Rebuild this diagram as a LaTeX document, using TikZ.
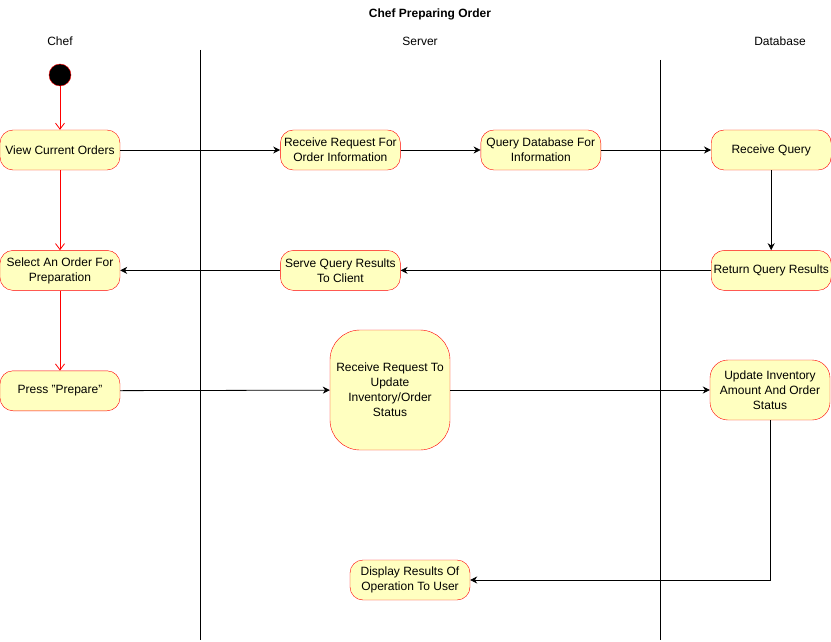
\documentclass[tikz,border=0pt]{standalone}
\usepackage{fontspec}
\setmainfont{Liberation Sans}
\usetikzlibrary{arrows.meta,positioning}

\tikzset{
  act/.style={rectangle,rounded corners=13pt,draw=red,fill=actfill,
    minimum width=120pt,minimum height=40pt,inner xsep=1pt,inner ysep=2pt,
    align=center,font=\fontsize{12}{15}\selectfont},
  flow/.style={-{Stealth[length=7pt,width=7pt]},line width=0.8pt},
  ctl/.style={-{Straight Barb[length=6pt,width=9pt]},draw=red,line width=0.8pt},
  lane/.style={font=\fontsize{12}{15}\selectfont}
}
\definecolor{actfill}{HTML}{FFFFC0}

\begin{document}
\begin{tikzpicture}[x=1pt,y=-1pt]
  \useasboundingbox (0,0) rectangle (831,642);

  \node[font=\bfseries\fontsize{12}{15}\selectfont] (title) at (430,14) {Chef Preparing Order};
  \node[lane] (chef) at (60,41) {Chef};
  \node[lane] (server) at (420,41) {Server};
  \node[lane] (db) at (780,41) {Database};

  \draw[line width=0.8pt] (200,50) -- (200,640);
  \draw[line width=0.8pt] (660,60) -- (660,640);

  \node[circle,draw=red,fill=black,minimum size=22pt,inner sep=0pt] (start) at (60,75) {};

  \node[act] (view) at (60,150) {View Current Orders};
  \node[act, right = 160pt of view] (recvreq) {Receive Request For\\Order Information};
  \node[act, right = 80pt of recvreq] (querydb) {Query Database For\\Information};
  \node[act, right = 110pt of querydb] (recvquery) {Receive Query};

  \node[act, below = 80pt of view] (select) {Select An Order For\\Preparation};
  \node[act, below = 80pt of recvreq] (serve) {Serve Query Results\\To Client};
  \node[act, below = 80pt of recvquery] (returnq) {Return Query Results};

  \node[act, below = 80pt of select] (press) {Press "Prepare"};
  \node[act, minimum height=120pt, rounded corners=30pt] (recvupd) at (390,390) {Receive Request To\\Update\\Inventory/Order\\Status};
  \node[act, minimum height=60pt, rounded corners=18pt] (update) at (770,390) {Update Inventory\\Amount And Order\\Status};

  \node[act] (display) at (410,580) {Display Results Of\\Operation To User};

  \draw[ctl] (start) -- (view);
  \draw[ctl] (view) -- (select);
  \draw[ctl] (select) -- (press);

  \draw[flow] (view) -- (recvreq);
  \draw[flow] (recvreq) -- (querydb);
  \draw[flow] (querydb) -- (recvquery);
  \draw[flow] (recvquery) -- (returnq);
  \draw[flow] (returnq) -- (serve);
  \draw[flow] (serve) -- (select);
  \draw[flow] (press) -- (recvupd);
  \draw[flow] (recvupd) -- (update);
  \draw[flow] (update) |- (display);

\end{tikzpicture}
\end{document}
